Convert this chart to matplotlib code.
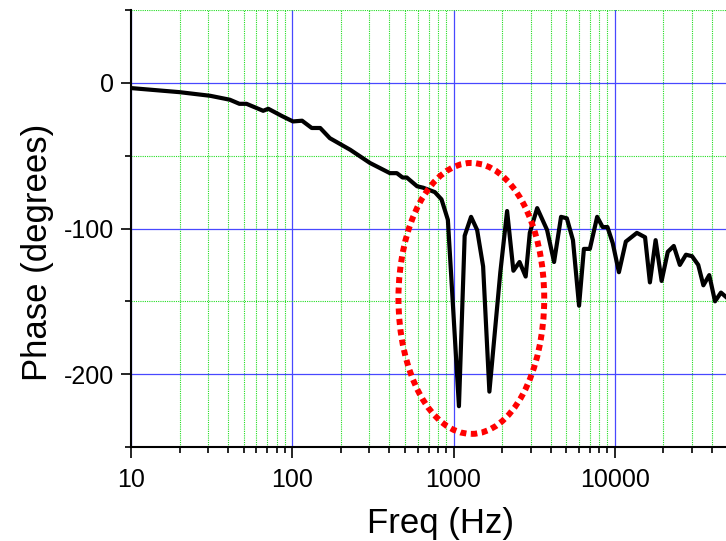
import matplotlib
matplotlib.use("Agg")
import matplotlib.pyplot as plt
from matplotlib.patches import Ellipse
from matplotlib.ticker import FixedLocator, LogLocator, NullFormatter, FuncFormatter

plt.rcParams['font.family'] = ['Liberation Sans', 'DejaVu Sans']
plt.rcParams['axes.unicode_minus'] = False

# phase response
freq = [10, 20, 31, 41, 47, 52, 66, 71, 87, 101, 115, 132, 149, 171, 229, 303,
        403, 445, 483, 513, 594, 648, 765, 842, 922, 1080, 1172, 1284, 1400,
        1525, 1668, 1950, 2148, 2350, 2565, 2800, 2970, 3300, 3800, 4200, 4640,
        5040, 5500, 6000, 6430, 7000, 7770, 8400, 9000, 9700, 10600, 11700,
        13700, 15400, 16500, 17900, 19500, 21300, 23200, 25300, 27600, 30100,
        32900, 35400, 38500, 41800, 45500, 48900]
phase = [-3.6, -6.4, -8.9, -11.6, -14.4, -14.4, -19.2, -17.8, -23, -26.5, -26,
         -31, -31, -38, -46, -55, -62, -62, -65, -65, -71, -72, -75, -80, -94,
         -222, -105, -92, -101, -126, -212, -130, -88, -129, -123, -133, -103,
         -86, -101, -123, -92, -93, -108, -153, -114, -114, -92, -99, -99, -110,
         -130, -109, -103, -106, -137, -108, -136, -116, -112, -125, -118, -119,
         -125, -139, -132, -150, -144, -147]

x_major = [10, 100, 1000, 10000]
y_major = [-200, -100, 0]
y_minor = [-250, -150, -50, 50]

fig = plt.figure(figsize=(7.26, 5.41), dpi=100)
ax = fig.add_axes([131/726, 94/541, 595/726, 437/541])

ax.set_xscale('log')
ax.set_xlim(10, 48900)
ax.set_ylim(-250, 50)

# grid
ax.grid(which='major', color='#4848ff', linewidth=0.9, linestyle='-')
ax.grid(which='minor', color='#22dd22', linewidth=0.8, linestyle=(0, (1, 1)))
ax.set_axisbelow(True)

ax.plot(freq, phase, color='black', linewidth=3.0, solid_joinstyle='round', zorder=3)

# red dotted ellipse around the dips
ell = Ellipse((0.572, 0.340), 0.245, 0.620, transform=ax.transAxes,
              fill=False, edgecolor='#ff0000', linewidth=4.3,
              linestyle=(0, (1, 0.75)), zorder=4)
ax.add_patch(ell)

ax.xaxis.set_major_locator(FixedLocator(x_major))
ax.xaxis.set_minor_locator(LogLocator(base=10, subs=range(2, 10)))
ax.xaxis.set_major_formatter(FuncFormatter(lambda v, p: '%d' % v))
ax.xaxis.set_minor_formatter(NullFormatter())
ax.yaxis.set_major_locator(FixedLocator(y_major))
ax.yaxis.set_minor_locator(FixedLocator(y_minor))

for s in ['top', 'right']:
    ax.spines[s].set_visible(False)
for s in ['left', 'bottom']:
    ax.spines[s].set_linewidth(1.5)

ax.tick_params(axis='x', which='major', direction='out', length=8, width=1.2,
               labelsize=18, pad=7)
ax.tick_params(axis='y', which='major', direction='out', length=7, width=1.2,
               labelsize=18, pad=5)
ax.tick_params(which='minor', direction='out', length=4, width=1.2)

ax.set_xlabel('Freq (Hz)', fontsize=25)
ax.set_ylabel('Phase (degrees)', fontsize=25)
ax.xaxis.set_label_coords(0.521, -0.137)
ax.yaxis.set_label_coords(-0.13, 0.446)

fig.savefig('out.png', dpi=100)
